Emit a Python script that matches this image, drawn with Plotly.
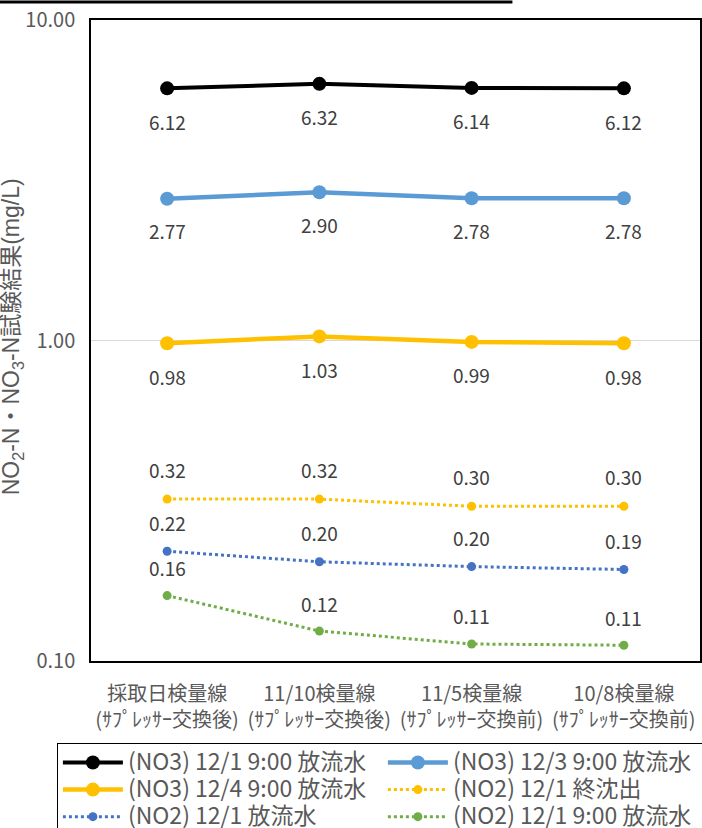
import math
import plotly.graph_objects as go

categories = [
    "採取日検量線<br>(ｻﾌﾟﾚｯｻｰ交換後)",
    "11/10検量線<br>(ｻﾌﾟﾚｯｻｰ交換後)",
    "11/5検量線<br>(ｻﾌﾟﾚｯｻｰ交換前)",
    "10/8検量線<br>(ｻﾌﾟﾚｯｻｰ交換前)",
]
series_names = [
    "(NO3) 12/1 9:00 放流水",
    "(NO3) 12/3 9:00 放流水",
    "(NO3) 12/4 9:00 放流水",
    "(NO2) 12/1 終沈出",
    "(NO2) 12/1 放流水",
    "(NO2) 12/1 9:00 放流水",
]
no3_1201 = [6.12, 6.32, 6.14, 6.12]
no3_1203 = [2.77, 2.90, 2.78, 2.78]
no3_1204 = [0.98, 1.03, 0.99, 0.98]
no2_1201_final = [0.32, 0.32, 0.304, 0.304]
no2_1201_eff = [0.22, 0.204, 0.197, 0.193]
no2_1201_0900 = [0.16, 0.124, 0.113, 0.112]
y_tickvals = [0.1, 1, 10]
y_ticktext = ["0.10", "1.00", "10.00"]

series_values = [no3_1201, no3_1203, no3_1204, no2_1201_final, no2_1201_eff, no2_1201_0900]
colors = ["#000000", "#5B9BD5", "#FFC000", "#FFC000", "#4472C4", "#70AD47"]
dashes = ["solid", "solid", "solid", "dot", "dot", "dot"]
widths = [4, 4.5, 4.5, 3, 3, 3]
msizes = [14, 14, 14, 9, 9, 9]
label_shift = [-33, -32, -33, 30, 29, 28]

FONT = "Noto Sans CJK JP"
fig = go.Figure()
for name, vals, c, d, w, ms in zip(series_names, series_values, colors, dashes, widths, msizes):
    fig.add_trace(go.Scatter(
        x=categories, y=vals, mode="lines+markers",
        name=f"<span style='font-size:23px'>{name}</span>",
        line=dict(color=c, width=w, dash=d),
        marker=dict(color=c, size=ms),
    ))

annotations = []
for vals, sh in zip(series_values, label_shift):
    for cat, v in zip(categories, vals):
        annotations.append(dict(
            x=cat, y=math.log10(v), xref="x", yref="y", text=f"{v:.2f}",
            showarrow=False, yshift=sh,
            font=dict(family=FONT, size=19, color="#404040"),
        ))
annotations.append(dict(
    x=-0.1297, y=0.505, xref="paper", yref="paper", xanchor="center", yanchor="middle",
    textangle=-90,
    text="NO<sub>2</sub>-N・NO<sub>3</sub>-N試験結果(mg/L)", showarrow=False,
    font=dict(family="Liberation Sans, Noto Sans CJK JP", size=23, color="#595959"),
))

fig.update_layout(
    width=702, height=828,
    margin=dict(l=91, r=2, t=20, b=167, autoexpand=False),
    paper_bgcolor="white", plot_bgcolor="white",
    font=dict(family=FONT, color="#595959"),
    annotations=annotations,
    showlegend=True,
    legend=dict(
        orientation="h", x=-0.056, y=-0.128, xanchor="left", yanchor="top",
        entrywidth=250, entrywidthmode="pixels",
        bordercolor="#000000", borderwidth=1,
        font=dict(family=FONT, size=18.5, color="#595959"),
        tracegroupgap=0, itemwidth=60,
    ),
    shapes=[dict(type="line", xref="paper", yref="paper",
                 x0=-0.15, x1=0.692, y0=1.028, y1=1.028,
                 line=dict(color="black", width=3))],
)
fig.update_xaxes(
    type="category", range=[-0.5, 3.5],
    showline=True, mirror=True, linecolor="black", linewidth=1.5,
    showgrid=False, ticks="", ticklabelstandoff=14,
    tickfont=dict(family=FONT, size=20, color="#595959"),
)
fig.update_yaxes(
    type="log", range=[-1, 1],
    tickvals=y_tickvals, ticktext=y_ticktext,
    showline=True, mirror=True, linecolor="black", linewidth=1.5,
    showgrid=True, gridcolor="#D9D9D9", gridwidth=1,
    ticks="", ticklabelstandoff=10,
    tickfont=dict(family=FONT, size=20, color="#595959"),
)
fig.write_html("out.html")
